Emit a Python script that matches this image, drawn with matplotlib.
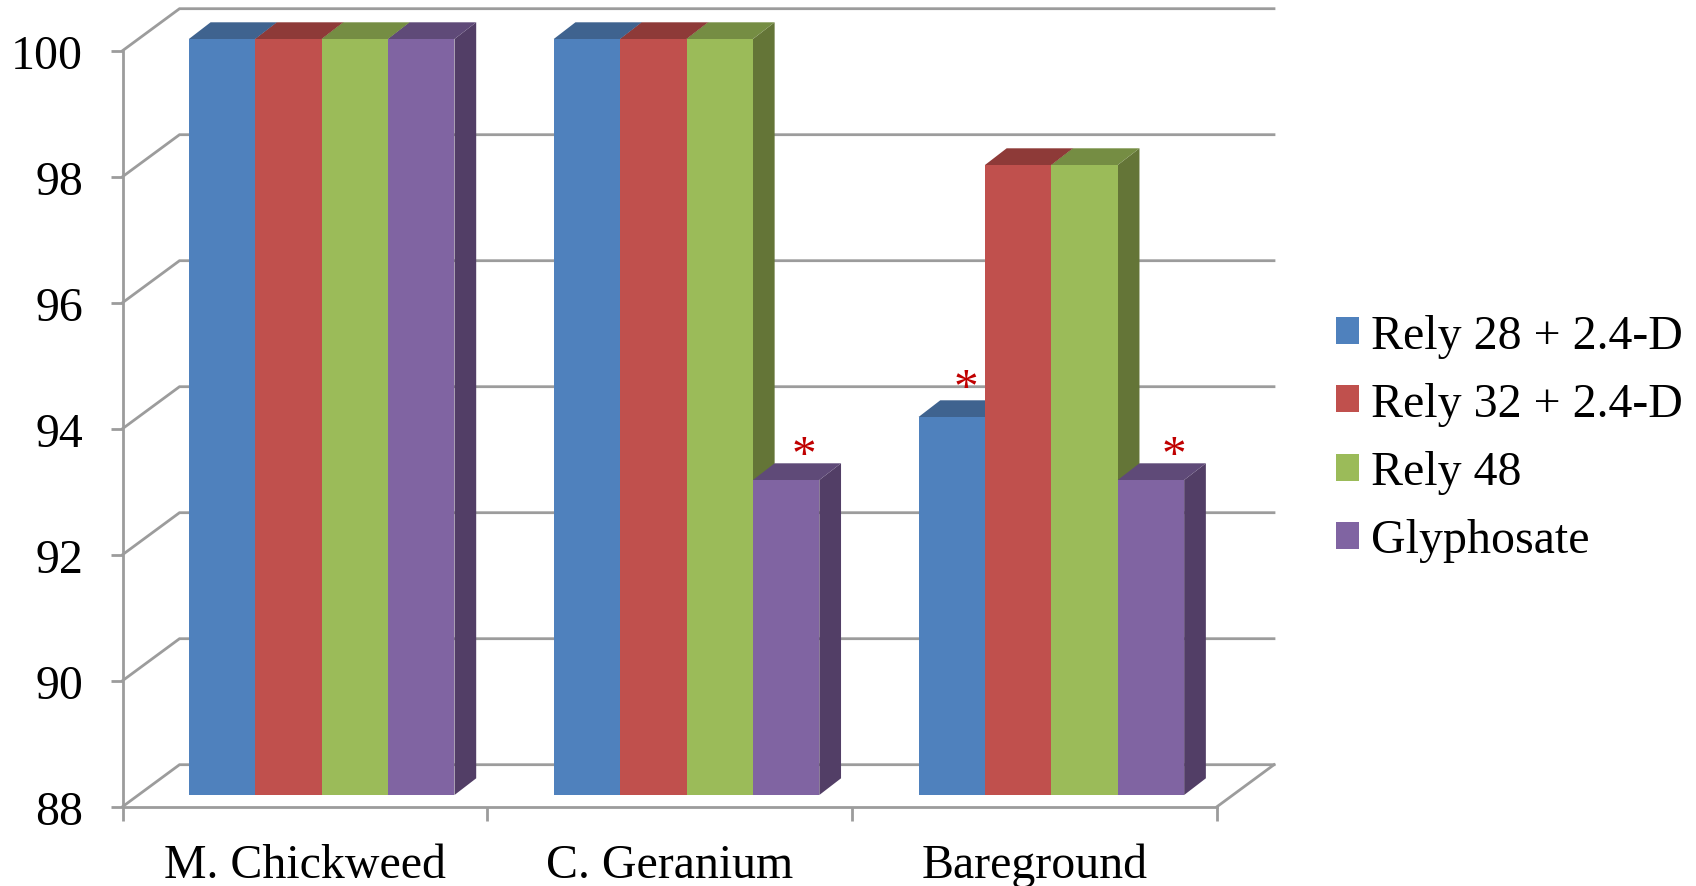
#!/usr/bin/env python3
# Weed control by treatment, drawn as a fake 3D clustered bar chart.

import matplotlib
matplotlib.use('Agg')
import matplotlib.pyplot as plt
from matplotlib.patches import Patch, Polygon

categories = ['M. Chickweed', 'C. Geranium', 'Bareground']
treatments = ['Rely 28 + 2.4-D', 'Rely 32 + 2.4-D', 'Rely 48', 'Glyphosate']
rely28 = [100, 100, 94]
rely32 = [100, 100, 98]
rely48 = [100, 100, 98]
glyphosate = [100, 93, 93]
yticks = [88, 90, 92, 94, 96, 98, 100]
starred = [(1, 3), (2, 0), (2, 3)]  # (category, treatment) flagged with a red asterisk

front = ['#4F81BD', '#C0504D', '#9BBB59', '#8064A2']
top = ['#3F638F', '#8E3A38', '#758D43', '#5F4A78']
side = ['#3C5F8A', '#7F3432', '#647537', '#523E66']
grid = '#9C9C9C'

W, H = 1696, 887
x0, x1 = 122.5, 1217  # pixel extent of the front floor edge
y0, y1 = 807.7, 51.7  # pixel positions of 88 and 100

plt.rcParams['font.family'] = ['Liberation Serif', 'DejaVu Serif']
fs = 34.5
lw = 2.0

fig = plt.figure(figsize=(W/100, H/100), dpi=100)
ax = fig.add_axes([x0/W, 1-y0/H, (x1-x0)/W, (y0-y1)/H])
ax.set_xlim(0, 3)
ax.set_ylim(88, 100)
ymin = ax.get_ylim()[0]

# depth of the walls, and of the bars, in data units

wall_dx, wall_dy = 57/((x1-x0)/3), 42/((y0-y1)/12)
bar_dx, bar_dy = 21.7/((x1-x0)/3), 16.7/((y0-y1)/12)
bar_lift = 11.7/((y0-y1)/12)
bar_start, bar_w = 0.182, 0.182

# walls and floor

for v in yticks:
    ax.plot([0, wall_dx, 3+wall_dx], [v, v+wall_dy, v+wall_dy], color=grid, lw=lw,
            clip_on=False, zorder=1, solid_joinstyle='miter')
ax.plot([3, 3+wall_dx], [ymin, ymin+wall_dy], color=grid, lw=lw, clip_on=False, zorder=1)

# bars, painted left to right so each hides the side of its neighbour

series = [rely28, rely32, rely48, glyphosate]
z = 2
for i in range(len(categories)):
    for j, vals in enumerate(series):
        v = vals[i]
        left = i + bar_start + j*bar_w
        right = left + bar_w
        base, roof = ymin + bar_lift, v + bar_lift
        ax.add_patch(Polygon([(right, base), (right+bar_dx, base+bar_dy),
                              (right+bar_dx, roof+bar_dy), (right, roof)],
                             fc=side[j], ec='none', clip_on=False, zorder=z))
        ax.add_patch(Polygon([(left, roof), (left+bar_dx, roof+bar_dy),
                              (right+bar_dx, roof+bar_dy), (right, roof)],
                             fc=top[j], ec='none', clip_on=False, zorder=z))
        ax.bar(left, roof-base, bar_w, bottom=base, align='edge', color=front[j],
               clip_on=False, zorder=z)
        z += 1

# hand placed, the asterisks do not sit at the same spot on each bar

star_dx = [0.05, 0.04, 0.062]
star_dy = [0.56, 0.63, 0.56]
for (i, j), dx, dy in zip(starred, star_dx, star_dy):
    xc = i + bar_start + (j+0.5)*bar_w + dx
    ax.text(xc, series[j][i] + dy, '*', color='#C00000', fontsize=fs+1, ha='center',
            va='center', zorder=z)

# axes

for s in ['top', 'right']:
    ax.spines[s].set_visible(False)
for s in ['left', 'bottom']:
    ax.spines[s].set_color(grid)
    ax.spines[s].set_linewidth(lw)
    ax.spines[s].set_zorder(1)
ax.set_yticks(yticks)
ax.set_xticks(range(len(categories)+1))
ax.set_xticklabels([])
ax.set_xticks([i+0.5 for i in range(len(categories))], categories, minor=True)
ax.tick_params(axis='y', length=9, width=lw, color=grid, pad=19.5, labelsize=fs)
ax.tick_params(axis='x', which='major', length=10, width=lw, color=grid)
ax.tick_params(axis='x', which='minor', length=0, pad=26, labelsize=fs)

handles = [Patch(fc=c, ec='none') for c in front]
fig.legend(handles, treatments, loc='center left', bbox_to_anchor=(1335.7/W, 1-439/H),
           frameon=False, fontsize=fs, borderpad=0, borderaxespad=0,
           handlelength=0.49, handleheight=0.49, handletextpad=0.24, labelspacing=0.505)

fig.savefig('out.png', dpi=100)
